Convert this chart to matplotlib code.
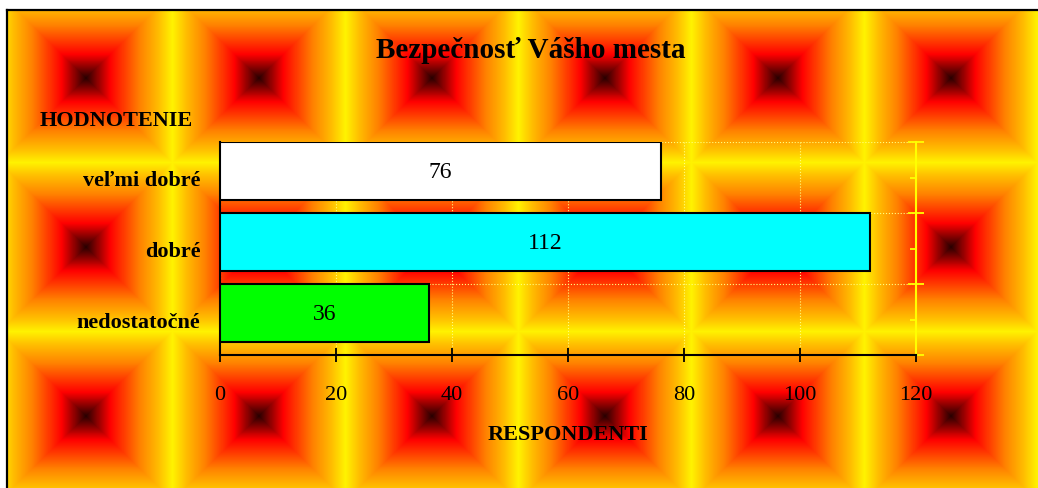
"""
Bezpečnosť Vášho mesta - horizontal bar chart on tiled gradient background
"""
import numpy as np
import matplotlib
matplotlib.use('Agg')
import matplotlib.pyplot as plt
from matplotlib.colors import LinearSegmentedColormap

plt.rcParams['font.family'] = ['Liberation Serif', 'DejaVu Serif']

# data
categories = ['veľmi dobré', 'dobré', 'nedostatočné']
values = [76, 112, 36]
bar_colors = ['#FFFFFF', '#00FFFF', '#00FF00']
x_ticks = [0, 20, 40, 60, 80, 100, 120]

title = 'Bezpečnosť Vášho mesta'
y_title = 'HODNOTENIE'
x_title = 'RESPONDENTI'

W, H = 1038, 489
fig = plt.figure(figsize=(W / 100, H / 100), dpi=100)

# background: tiled rectangular gradient (dark centre -> red -> orange -> yellow)
bg = fig.add_axes([0, 0, 1, 1])
yy, xx = np.mgrid[0:H, 0:W] + 0.5
tw, th = 173.0, 169.0
cx0, cy0 = 86.0, 79.0
dx = ((xx - cx0 + tw / 2) % tw) - tw / 2
dy = ((yy - cy0 + th / 2) % th) - th / 2
t = np.maximum(np.abs(dx) / (tw / 2), np.abs(dy) / (th / 2))
cmap = LinearSegmentedColormap.from_list('tile', [
    (0.0, '#2a0000'), (0.28, '#ff0000'), (0.62, '#ff8000'),
    (0.85, '#ffc000'), (1.0, '#fff200')])
img = cmap(t)
img[(xx < 7) | (yy < 11)] = [1, 1, 1, 1]
bg.imshow(img, extent=(0, W, H, 0), aspect='auto', interpolation='nearest')
bg.plot([7, 7], [H, 11], color='black', lw=1.6)
bg.plot([7, W], [11, 11], color='black', lw=1.6)
bg.set_xlim(0, W)
bg.set_ylim(H, 0)
bg.axis('off')

# main axes
left, right, top, bottom = 220, 916, 143, 356
ax = fig.add_axes([left / W, 1 - bottom / H, (right - left) / W, (bottom - top) / H])
ax.patch.set_alpha(0)

n = len(categories)
pos = np.arange(n)
bars = ax.barh(pos, values, height=0.82, align='edge', color=bar_colors,
               edgecolor='black', linewidth=1.5, zorder=3)
ax.bar_label(bars, labels=[str(v) for v in values], label_type='center',
             fontsize=17, color='black')

ax.set_xlim(x_ticks[0], x_ticks[-1])
ax.set_ylim(n, 0)
ax.set_xticks(x_ticks)
ax.set_xticklabels([str(v) for v in x_ticks], fontsize=16)
ax.set_yticks(np.arange(n + 1))
ax.set_yticklabels([])
ax.set_yticks(pos + 0.5, minor=True)
ax.set_yticklabels(categories, minor=True, fontsize=16, fontweight='bold')

ax.tick_params(axis='x', direction='inout', length=9.5, width=1.3, pad=17, color='black')
ax.tick_params(axis='y', which='both', left=False, right=True, labelleft=True,
               color='#ffff00', width=1.3)
ax.tick_params(axis='y', which='major', direction='inout', length=11)
ax.tick_params(axis='y', which='minor', direction='in', length=4.5, pad=14)

ax.grid(True, which='major', color='#ffff80', linestyle=':', linewidth=0.8, zorder=0)
ax.set_axisbelow(True)

ax.spines['top'].set_visible(False)
ax.spines['right'].set_color('#ffff00')
ax.spines['right'].set_linewidth(1.5)
ax.spines['left'].set_linewidth(1.5)
ax.spines['bottom'].set_linewidth(1.5)

fig.text(531 / W, 1 - 50 / H, title, ha='center', va='center', fontsize=21, fontweight='bold')
fig.text(40 / W, 1 - 121 / H, y_title, ha='left', va='center', fontsize=16, fontweight='bold')
fig.text(568 / W, 1 - 435 / H, x_title, ha='center', va='center', fontsize=16, fontweight='bold')

fig.savefig('out.png', dpi=100)
